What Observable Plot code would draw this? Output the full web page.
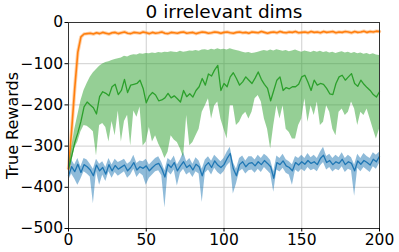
<!DOCTYPE html>
<html>
<head>
<meta charset="utf-8">
<script src="https://cdn.jsdelivr.net/npm/d3@7"></script>
<script src="https://cdn.jsdelivr.net/npm/@observablehq/plot@0.6"></script>
<style>
  html, body { margin: 0; padding: 0; background: #fff; }
  #chart svg { display: block; }
  #chart svg text { font-family: "DejaVu Sans", sans-serif; }
</style>
</head>
<body>
<div id="chart"></div>
<script>
const title = "0 irrelevant dims";
const yLabel = "True Rewards";
const xTicks = [0, 50, 100, 150, 200];
const yTicks = [0, -100, -200, -300, -400, -500];

// training steps (every 2nd step)
const steps = d3.range(0, 201, 2);

const orangeMean = [
  -355,-262,-160,-72,-35,-28,-27,-26,-28,-25,
  -27,-24,-26,-28,-25,-24,-27,-25,-23,-26,
  -27,-24,-25,-26,-23,-25,-27,-24,-26,-25,
  -23,-26,-27,-24,-25,-26,-24,-23,-26,-25,
  -24,-27,-25,-23,-24,-26,-25,-23,-24,-26,
  -24,-23,-25,-26,-24,-23,-25,-24,-26,-23,
  -24,-25,-22,-24,-26,-24,-23,-25,-22,-24,
  -25,-23,-24,-22,-25,-24,-23,-25,-22,-24,
  -23,-25,-22,-24,-23,-22,-25,-23,-24,-22,
  -23,-25,-22,-24,-23,-21,-24,-22,-23,-21,
  -22
];

const greenMean = [
  -355,-325,-292,-268,-240,-205,-193,-200,-207,-222,
  -180,-168,-172,-178,-156,-150,-175,-165,-138,-170,
  -152,-150,-148,-140,-160,-195,-178,-170,-176,-190,
  -188,-183,-172,-183,-178,-185,-193,-165,-180,-173,
  -181,-165,-156,-136,-152,-125,-130,-115,-104,-165,
  -148,-156,-132,-122,-136,-152,-144,-132,-140,-148,
  -135,-120,-138,-150,-160,-190,-165,-140,-132,-165,
  -158,-161,-156,-156,-150,-132,-128,-145,-165,-140,
  -152,-148,-150,-160,-173,-175,-148,-132,-128,-140,
  -132,-124,-148,-155,-140,-150,-158,-165,-175,-181,
  -168
];
const greenLow = [
  -362,-340,-305,-290,-265,-250,-252,-258,-265,-324,
  -250,-245,-255,-290,-240,-275,-215,-290,-240,-225,
  -300,-215,-230,-205,-300,-290,-255,-290,-275,-295,
  -310,-330,-315,-275,-285,-291,-307,-328,-226,-299,
  -291,-275,-259,-218,-202,-185,-234,-202,-193,-234,
  -259,-283,-202,-202,-250,-242,-226,-218,-234,-218,
  -185,-177,-193,-234,-259,-307,-250,-202,-234,-202,
  -259,-267,-283,-283,-250,-234,-185,-242,-202,-226,
  -193,-250,-242,-202,-218,-259,-275,-218,-210,-226,
  -218,-193,-210,-250,-218,-226,-210,-234,-259,-283,
  -259
];
const greenHigh = [
  -348,-305,-260,-225,-190,-165,-148,-133,-122,-114,
  -106,-101,-97,-95,-92,-90,-88,-86,-82,-84,
  -80,-78,-79,-76,-77,-75,-76,-74,-75,-73,
  -74,-72,-73,-71,-72,-73,-70,-72,-71,-69,
  -70,-68,-70,-67,-66,-68,-65,-67,-64,-66,
  -65,-67,-64,-66,-68,-70,-72,-74,-73,-75,
  -74,-72,-70,-68,-70,-67,-69,-66,-68,-70,
  -68,-71,-69,-67,-70,-72,-69,-71,-73,-70,
  -72,-70,-73,-71,-74,-72,-75,-73,-71,-74,
  -72,-75,-73,-76,-74,-77,-75,-78,-76,-79,
  -80
];

const blueMean = [
  -372,-350,-362,-344,-364,-345,-350,-358,-372,-346,
  -360,-352,-368,-345,-360,-347,-356,-351,-346,-360,
  -352,-340,-358,-350,-354,-348,-360,-352,-345,-342,
  -355,-375,-344,-352,-340,-360,-348,-338,-352,-346,
  -358,-344,-350,-372,-348,-340,-352,-336,-346,-352,
  -345,-330,-318,-355,-372,-345,-338,-350,-342,-340,
  -348,-338,-345,-335,-342,-350,-378,-340,-345,-336,
  -348,-352,-360,-340,-346,-338,-344,-335,-342,-338,
  -345,-330,-322,-340,-335,-345,-338,-342,-332,-345,
  -338,-342,-360,-336,-344,-335,-340,-346,-332,-338,
  -325
];
const blueHigh = [
  -362,-334,-346,-330,-350,-330,-334,-344,-356,-332,
  -344,-338,-352,-330,-346,-332,-340,-336,-332,-344,
  -338,-322,-342,-336,-338,-332,-346,-338,-330,-326,
  -340,-360,-330,-336,-324,-346,-333,-315,-338,-330,
  -344,-328,-336,-356,-334,-326,-337,-322,-330,-338,
  -330,-315,-303,-340,-356,-330,-324,-336,-326,-326,
  -334,-322,-330,-320,-326,-335,-362,-324,-330,-320,
  -333,-338,-345,-325,-330,-322,-330,-318,-328,-322,
  -330,-315,-303,-325,-320,-330,-322,-328,-316,-330,
  -322,-328,-346,-320,-330,-318,-325,-330,-316,-322,
  -315
];
const blueLow = [
  -385,-368,-380,-395,-380,-362,-368,-375,-440,-362,
  -395,-370,-386,-362,-378,-364,-373,-368,-362,-378,
  -370,-356,-376,-366,-372,-395,-378,-370,-362,-360,
  -372,-450,-362,-370,-358,-397,-366,-356,-370,-364,
  -376,-362,-368,-437,-366,-358,-370,-354,-364,-370,
  -362,-348,-340,-416,-392,-362,-356,-368,-360,-358,
  -366,-356,-364,-352,-360,-368,-412,-358,-363,-354,
  -366,-370,-395,-358,-364,-356,-362,-352,-360,-356,
  -362,-348,-340,-358,-352,-363,-356,-360,-350,-364,
  -356,-360,-422,-354,-362,-352,-358,-364,-350,-356,
  -342
];

const rows = steps.map((s, i) => ({
  step: s,
  orange: orangeMean[i],
  green: greenMean[i], greenLo: greenLow[i], greenHi: greenHigh[i],
  blue: blueMean[i], blueLo: blueLow[i], blueHi: blueHigh[i]
}));

const BLUE = "#1f77b4", ORANGE = "#ff7f0e", GREEN = "#2ca02c";

const chart = Plot.plot({
  width: 399,
  height: 252,
  marginLeft: 68,
  marginRight: 20,
  marginTop: 22,
  marginBottom: 24,
  style: { fontFamily: "'DejaVu Sans', sans-serif", fontSize: "15.5px", color: "#000", background: "#fff" },
  x: { domain: [0, 200] },
  y: { domain: [-500, 0] },
  marks: [
    Plot.gridX(xTicks, { stroke: "#cfcfcf", strokeOpacity: 1, strokeWidth: 1 }),
    Plot.gridY(yTicks, { stroke: "#cfcfcf", strokeOpacity: 1, strokeWidth: 1 }),
    Plot.areaY(rows, { x: "step", y1: "blueLo", y2: "blueHi", fill: BLUE, fillOpacity: 0.5 }),
    Plot.lineY(rows, { x: "step", y: "blue", stroke: BLUE, strokeWidth: 1.3 }),
    Plot.lineY(rows, { x: "step", y: "orange", stroke: ORANGE, strokeWidth: 3.5, strokeOpacity: 0.35 }),
    Plot.lineY(rows, { x: "step", y: "orange", stroke: ORANGE, strokeWidth: 1.6 }),
    Plot.areaY(rows, { x: "step", y1: "greenLo", y2: "greenHi", fill: GREEN, fillOpacity: 0.5 }),
    Plot.lineY(rows, { x: "step", y: "green", stroke: GREEN, strokeWidth: 1.3 }),
    Plot.frame({ stroke: "#333", strokeWidth: 1 }),
    Plot.axisX({ ticks: xTicks, tickSize: 3.5, tickPadding: 2, label: null, tickFormat: d3.format("d"), fontSize: 15.5 }),
    Plot.axisY({ ticks: yTicks, tickSize: 3.5, tickPadding: 2, tickFormat: d3.format("d"), fontSize: 15.5,
      label: null }),
    Plot.text([yLabel], { frameAnchor: "left", dx: -56, rotate: -90, textAnchor: "middle", lineAnchor: "middle", fontSize: 16, text: d => d }),
    Plot.text([title], { frameAnchor: "top", dy: -18, fontSize: 18.5, text: d => d })
  ]
});
document.getElementById("chart").appendChild(chart);
</script>
</body>
</html>
